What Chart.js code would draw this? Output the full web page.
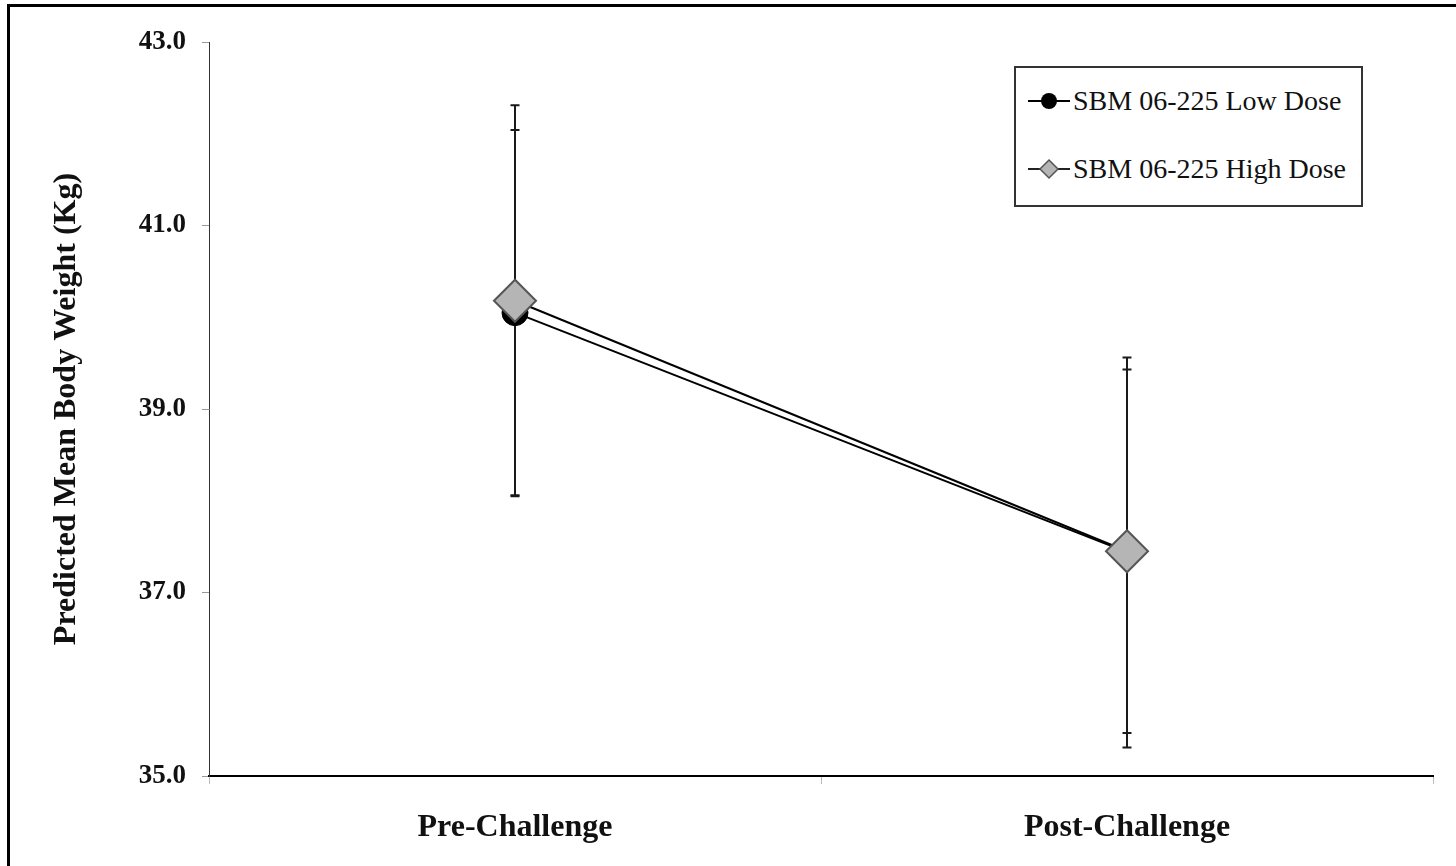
<!DOCTYPE html>
<html>
<head>
<meta charset="utf-8">
<script src="https://cdn.jsdelivr.net/npm/chart.js@4.4.1/dist/chart.umd.min.js"></script>
<style>
  html, body { margin: 0; padding: 0; background: #fff; }
  #wrap { position: relative; width: 1456px; height: 866px; overflow: hidden; }
  #frame { position: absolute; left: 7px; top: 4px; width: 1500px; height: 900px;
           border-left: 3px solid #000; border-top: 3px solid #000; pointer-events: none; }
  #legend { position: absolute; left: 1014px; top: 66px; width: 345px; height: 137px;
            border: 2px solid #333; background: #fff; font-family: "Liberation Serif", "Times New Roman", serif;
            font-size: 28px; color: #111; }
  .item { position: absolute; left: 12px; display: flex; align-items: center; white-space: nowrap; }
  .item svg { margin-right: 3px; }
</style>
</head>
<body>
<div id="wrap">
  <canvas id="c" width="1456" height="866"></canvas>
  <div id="frame"></div>
  <div id="legend">
    <div class="item" style="top:17px">
      <svg width="42" height="30"><line x1="0" y1="15" x2="42" y2="15" stroke="#000" stroke-width="2"/><circle cx="21" cy="15" r="8" fill="#000"/></svg>
      <span id="lg0"></span>
    </div>
    <div class="item" style="top:85px">
      <svg width="42" height="30"><line x1="0" y1="15" x2="42" y2="15" stroke="#222" stroke-width="2"/><polygon points="21,6 30,15 21,24 12,15" fill="#b5b5b5" stroke="#555" stroke-width="1.5"/></svg>
      <span id="lg1"></span>
    </div>
  </div>
</div>
<script>
const categories = ['Pre-Challenge', 'Post-Challenge'];
const seriesNames = ['SBM 06-225 Low Dose', 'SBM 06-225 High Dose'];
const lowDose = [40.05, 37.44];
const highDose = [40.18, 37.45];
const lowDoseLower = [38.06, 35.47];
const lowDoseUpper = [42.04, 39.43];
const highDoseLower = [38.05, 35.31];
const highDoseUpper = [42.31, 39.56];
const yTicks = [35, 37, 39, 41, 43];

document.getElementById('lg0').textContent = seriesNames[0];
document.getElementById('lg1').textContent = seriesNames[1];

const errorBars = [
  { lower: lowDoseLower, upper: lowDoseUpper },
  { lower: highDoseLower, upper: highDoseUpper }
];

const errorBarPlugin = {
  id: 'errorBars',
  beforeDatasetsDraw(chart) {
    const ctx = chart.ctx;
    const x = chart.scales.x, y = chart.scales.y;
    ctx.save();
    ctx.strokeStyle = '#1a1a1a';
    ctx.lineWidth = 2;
    errorBars.forEach(eb => {
      categories.forEach((c, i) => {
        const px = x.getPixelForValue(i);
        const yl = y.getPixelForValue(eb.lower[i]);
        const yu = y.getPixelForValue(eb.upper[i]);
        ctx.beginPath();
        ctx.moveTo(px, yl); ctx.lineTo(px, yu);
        ctx.moveTo(px - 4.5, yl); ctx.lineTo(px + 4.5, yl);
        ctx.moveTo(px - 4.5, yu); ctx.lineTo(px + 4.5, yu);
        ctx.stroke();
      });
    });
    ctx.restore();
  }
};

new Chart(document.getElementById('c'), {
  type: 'line',
  data: {
    labels: categories,
    datasets: [
      {
        label: seriesNames[0],
        data: lowDose,
        order: 1,
        borderColor: '#000',
        borderWidth: 2,
        pointStyle: 'circle',
        pointRadius: 13,
        pointBackgroundColor: '#000',
        pointBorderColor: '#000',
        pointBorderWidth: 1,
        tension: 0
      },
      {
        label: seriesNames[1],
        data: highDose,
        order: 0,
        borderColor: '#000',
        borderWidth: 2,
        pointStyle: 'rectRot',
        pointRadius: 21,
        pointBackgroundColor: '#b5b5b5',
        pointBorderColor: '#555',
        pointBorderWidth: 2,
        tension: 0
      }
    ]
  },
  options: {
    responsive: false,
    animation: false,
    devicePixelRatio: 1,
    layout: { padding: { left: 0, right: 21, top: 42, bottom: 0 } },
    plugins: { legend: { display: false }, tooltip: { enabled: false } },
    scales: {
      x: {
        type: 'category',
        offset: true,
        afterFit(s) { s.height = 90; },
        grid: { offset: true, drawOnChartArea: false, drawTicks: true, tickLength: 8, color: '#bbb', lineWidth: 1 },
        border: { display: true, color: '#000', width: 2 },
        ticks: {
          color: '#111',
          padding: 25,
          font: { family: '"Liberation Serif", "Times New Roman", serif', size: 32, weight: 'bold' }
        }
      },
      y: {
        min: 35,
        max: 43,
        afterFit(s) { s.width = 209; },
        afterBuildTicks(s) { s.ticks = yTicks.map(v => ({ value: v })); },
        grid: { drawOnChartArea: false, drawTicks: true, tickLength: 7, color: '#999', lineWidth: 1 },
        border: { display: true, color: '#333', width: 1 },
        ticks: {
          color: '#111',
          padding: 16,
          font: { family: '"Liberation Serif", "Times New Roman", serif', size: 27, weight: 'bold' },
          callback: v => Number(v).toFixed(1)
        },
        title: {
          display: true,
          text: 'Predicted Mean Body Weight (Kg)',
          color: '#111',
          padding: { top: 48, bottom: 0 },
          font: { family: '"Liberation Serif", "Times New Roman", serif', size: 32, weight: 'bold' }
        }
      }
    }
  },
  plugins: [errorBarPlugin]
});
</script>
</body>
</html>
